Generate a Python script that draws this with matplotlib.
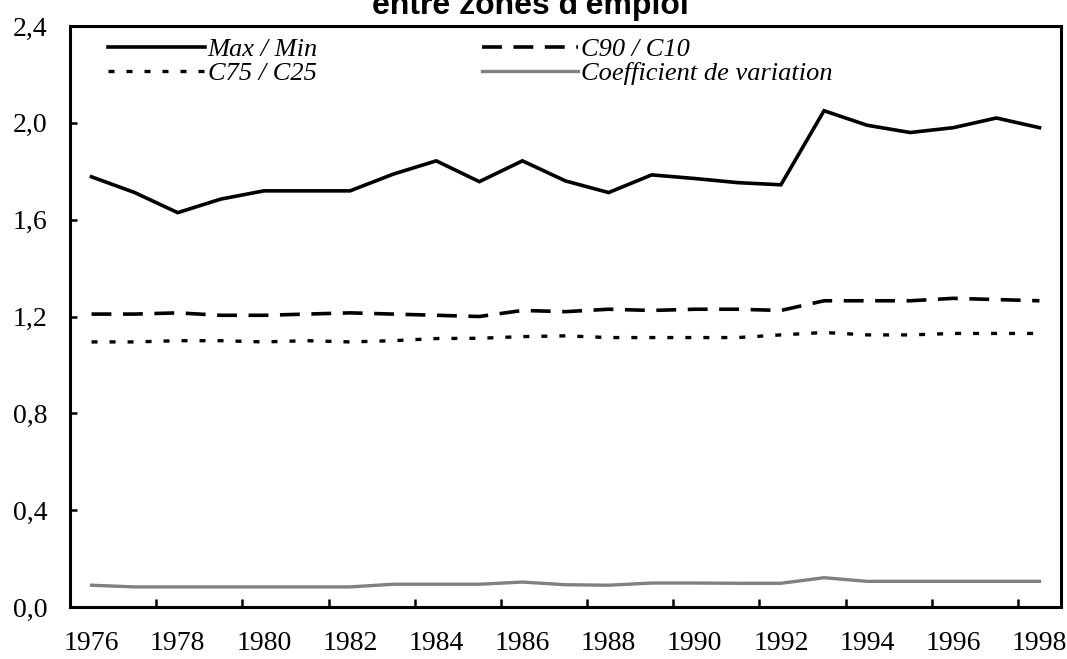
import matplotlib
matplotlib.use("Agg")
import matplotlib.pyplot as plt
from matplotlib.ticker import FixedLocator, FuncFormatter

years = list(range(1976, 1999))
max_min = [1.777, 1.712, 1.629, 1.685, 1.719, 1.719, 1.719, 1.788, 1.843, 1.757,
           1.843, 1.760, 1.712, 1.785, 1.770, 1.753, 1.744, 2.05, 1.99, 1.96,
           1.98, 2.02, 1.98]
c90_c10 = [1.21, 1.21, 1.215, 1.205, 1.205, 1.21, 1.215, 1.21, 1.205, 1.20,
           1.225, 1.22, 1.23, 1.225, 1.23, 1.23, 1.225, 1.265, 1.265, 1.265,
           1.275, 1.27, 1.265]
c75_c25 = [1.095, 1.095, 1.10, 1.10, 1.095, 1.10, 1.095, 1.10, 1.109, 1.11,
           1.117, 1.12, 1.113, 1.113, 1.113, 1.113, 1.124, 1.134, 1.124, 1.124,
           1.13, 1.13, 1.13]
coef_var = [0.090, 0.083, 0.083, 0.083, 0.083, 0.083, 0.083, 0.094, 0.094, 0.094,
            0.103, 0.092, 0.090, 0.099, 0.099, 0.098, 0.098, 0.121, 0.106, 0.106,
            0.106, 0.106, 0.106]

labels = ["Max / Min", "C90 / C10", "C75 / C25", "Coefficient de variation"]
title = "entre zones d'emploi"
yticks = [0.0, 0.4, 0.8, 1.2, 1.6, 2.0, 2.4]

serif = ["Liberation Serif", "DejaVu Serif"]

fig = plt.figure(figsize=(10.67, 6.59), dpi=100)
ax = fig.add_axes([70/1067, 1-607/659, (1061-70)/1067, (607-26)/659])

l1, = ax.plot(years, max_min, color="black", lw=2.6, solid_joinstyle="miter")
l2, = ax.plot(years, c90_c10, color="black", lw=2.6, dashes=(5.5, 3.2))
l3, = ax.plot(years, c75_c25, color="black", lw=2.4, dashes=(1.8, 3.6))
l4, = ax.plot(years, coef_var, color="#808080", lw=2.4)

ax.set_xlim(years[0]-0.5, years[-1]+0.5)
ax.set_ylim(0, 2.4)
ax.yaxis.set_major_locator(FixedLocator(yticks))
ax.yaxis.set_major_formatter(FuncFormatter(lambda v, p: f"{v:.1f}".replace(".", ",")))
ax.xaxis.set_major_locator(FixedLocator(years[::2]))
ax.xaxis.set_minor_locator(FixedLocator([y + 1.5 for y in years[:-2:2]]))
ax.tick_params(axis="x", which="major", length=0, pad=17.5)
ax.tick_params(axis="x", which="minor", direction="in", length=6, width=1.8)
ax.tick_params(axis="y", which="major", direction="in", length=5, width=1.8, pad=16)
for lab in ax.get_xticklabels() + ax.get_yticklabels():
    lab.set_family(serif)
    lab.set_fontsize(20)
for s in ax.spines.values():
    s.set_linewidth(2.2)

leg = ax.legend([l1, l3, l2, l4], [labels[0], labels[2], labels[1], labels[3]],
                ncol=2, loc="upper left", bbox_to_anchor=(38/991, 1-12/581),
                frameon=False, borderpad=0, borderaxespad=0,
                handlelength=3.67, handletextpad=0.11, columnspacing=6.2,
                labelspacing=0.0,
                prop={"family": serif, "style": "italic", "size": 19})

fig.text(0.497, 1-14/659, title, ha="center", va="baseline",
         fontsize=23, fontweight="bold", family=["Liberation Sans", "DejaVu Sans"])

fig.savefig("out.png", dpi=100)
